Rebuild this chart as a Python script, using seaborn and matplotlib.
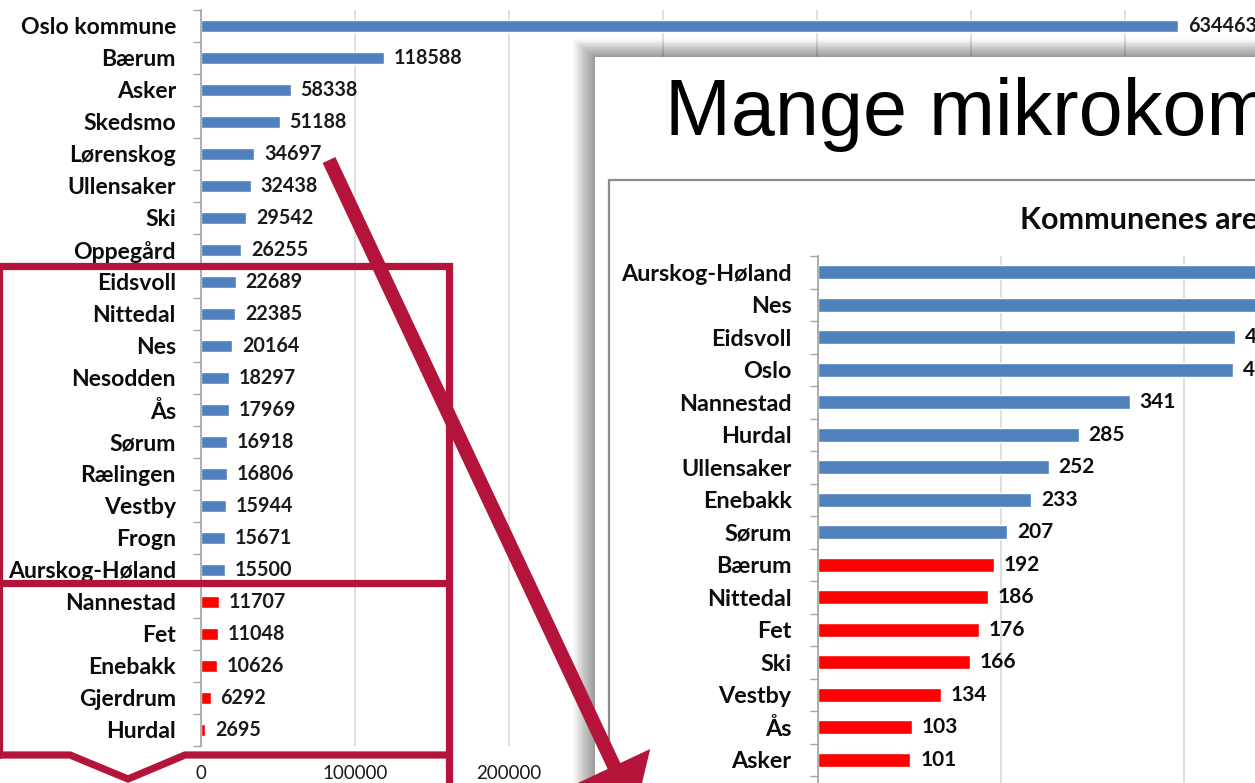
import numpy as np
import pandas as pd
import matplotlib
matplotlib.use("Agg")
import matplotlib.pyplot as plt
from matplotlib.patches import Rectangle, Polygon
import seaborn as sns

# ---------------- data ----------------
main_cats = ['Oslo kommune', 'Bærum', 'Asker', 'Skedsmo', 'Lørenskog', 'Ullensaker', 'Ski',
             'Oppegård', 'Eidsvoll', 'Nittedal', 'Nes', 'Nesodden', 'Ås', 'Sørum', 'Rælingen',
             'Vestby', 'Frogn', 'Aurskog-Høland', 'Nannestad', 'Fet', 'Enebakk', 'Gjerdrum', 'Hurdal']
main_vals = [634463, 118588, 58338, 51188, 34697, 32438, 29542, 26255, 22689, 22385, 20164,
             18297, 17969, 16918, 16806, 15944, 15671, 15500, 11707, 11048, 10626, 6292, 2695]
main_groups = ['stor'] * 18 + ['liten'] * 5
main_ticks = [0, 100000, 200000, 300000, 400000, 500000, 600000]

area_cats = ['Aurskog-Høland', 'Nes', 'Eidsvoll', 'Oslo', 'Nannestad', 'Hurdal', 'Ullensaker',
             'Enebakk', 'Sørum', 'Bærum', 'Nittedal', 'Fet', 'Ski', 'Vestby', 'Ås', 'Asker']
area_vals = [967, 637, 456, 454, 341, 285, 252, 233, 207, 192, 186, 176, 166, 134, 103, 101]
area_groups = ['stor'] * 9 + ['liten'] * 7
area_ticks = [0, 200, 400, 600, 800, 1000]

title_text = 'Mange mikrokommuner'
subtitle_text = 'Kommunenes areal (km²)'

BLUE = '#4F81BD'
RED = '#FF0000'
CRIMSON = '#B5143A'
palette = {'stor': BLUE, 'liten': RED}

sns.set_theme(style='white')
plt.rcParams['font.family'] = ['Lato', 'DejaVu Sans']

W, H = 1255, 783
fig = plt.figure(figsize=(W / 100, H / 100), dpi=100)


def rect_px(x0, y0, x1, y1):
    return [x0 / W, 1 - y1 / H, (x1 - x0) / W, (y1 - y0) / H]


CAT_FS = 16.6
VAL_FS = 14.2
PANEL_X = 595

# ---------------- main population chart ----------------
main_df = pd.DataFrame({'kommune': main_cats, 'innbyggere': main_vals, 'gruppe': main_groups})
ax = fig.add_axes(rect_px(201, 10, 1255, 746))
ax.set_zorder(1)
sns.barplot(data=main_df, x='innbyggere', y='kommune', hue='gruppe', palette=palette,
            orient='h', width=0.4, dodge=False, legend=False, ax=ax, saturation=1)
n = len(main_cats)
px_per_pop = 154 / 100000
ax.set_ylim(n - 0.5, -0.5)
ax.set_xlim(0, (1255 - 201) / px_per_pop)
ax.set_xticks(main_ticks)
# tick labels that sit under the overlaid slide panel are not visible in the reference
ax.set_xticklabels([str(t) if 201 + t * px_per_pop + 40 < PANEL_X else '' for t in main_ticks])
ax.set_yticks(np.arange(-0.5, n, 1), minor=True)
ax.tick_params(axis='y', which='major', length=0, labelsize=CAT_FS, pad=18)
ax.tick_params(axis='y', which='minor', length=6, color='#a6a6a6', width=1, direction='out', left=True)
ax.tick_params(axis='x', length=0, labelsize=13.5, pad=14, labelcolor='#1a1a1a')
for lab in ax.get_yticklabels():
    lab.set_fontweight('bold')
    lab.set_color('#0d0d0d')
ax.xaxis.grid(True, color='#d9d9d9', lw=1.2)
ax.set_axisbelow(True)
for s in ['top', 'right', 'bottom']:
    ax.spines[s].set_visible(False)
ax.spines['left'].set_color('#a6a6a6')
ax.set_xlabel('')
ax.set_ylabel('')
for c in ax.containers:
    ax.bar_label(c, fmt='%d', padding=7, fontsize=VAL_FS, fontweight='bold', color='#1a1a1a')

# ---------------- overlay slide panel ----------------
ov = fig.add_axes([0, 0, 1, 1])
ov.set_zorder(2)
ov.set_xlim(0, W)
ov.set_ylim(H, 0)
ov.axis('off')
ov.patch.set_alpha(0)
for d in range(22, 0, -1):
    ov.add_patch(Rectangle((PANEL_X - d, 57 - d * 0.8), 2000, 2000, facecolor='black',
                           edgecolor='none', alpha=0.019))
ov.add_patch(Rectangle((PANEL_X, 57), 2000, 2000, facecolor='white', edgecolor='none'))
ov.add_patch(Rectangle((609, 180), 2000, 2000, facecolor='white', edgecolor='#8c8c8c', lw=1.6))
ov.text(665, 135, title_text, family=['Liberation Sans', 'DejaVu Sans'], fontsize=57,
        color='black', va='baseline', ha='left')
ov.text(1020, 218, subtitle_text, fontsize=22, fontweight='bold', color='#0d0d0d',
        va='center', ha='left')

# ---------------- inner area chart ----------------
area_df = pd.DataFrame({'kommune': area_cats, 'areal': area_vals, 'gruppe': area_groups})
m = len(area_cats)
px_per_unit = 0.915
ax2 = fig.add_axes(rect_px(818, 256, 818 + 1000 * px_per_unit, 256 + (m + 1) * 32.5))
ax2.set_zorder(3)
sns.barplot(data=area_df, x='areal', y='kommune', hue='gruppe', palette=palette,
            orient='h', width=0.42, dodge=False, legend=False, ax=ax2, saturation=1)
ax2.set_ylim(m + 0.5, -0.5)
ax2.set_xlim(0, 1000)
ax2.set_xticks(area_ticks)
ax2.set_xticklabels([])
ax2.set_yticks(np.arange(-0.5, m + 1, 1), minor=True)
ax2.tick_params(axis='y', which='major', length=0, labelsize=CAT_FS + 0.2, pad=19)
ax2.tick_params(axis='y', which='minor', length=6, color='#a6a6a6', width=1, direction='out', left=True)
ax2.tick_params(axis='x', length=0)
for lab in ax2.get_yticklabels():
    lab.set_fontweight('bold')
    lab.set_color('#0d0d0d')
ax2.xaxis.grid(True, color='#d9d9d9', lw=1.2)
ax2.set_axisbelow(True)
for s in ['top', 'right', 'bottom']:
    ax2.spines[s].set_visible(False)
ax2.spines['left'].set_color('#a6a6a6')
ax2.set_xlabel('')
ax2.set_ylabel('')
ax2.patch.set_alpha(0)
for c in ax2.containers:
    ax2.bar_label(c, fmt='%d', padding=7, fontsize=15, fontweight='bold', color='#0d0d0d')

# ---------------- red annotations ----------------
an = fig.add_axes([0, 0, 1, 1])
an.set_zorder(4)
an.set_xlim(0, W)
an.set_ylim(H, 0)
an.axis('off')
an.patch.set_alpha(0)
lw = 5.2
an.plot([-2, 449, 449], [266, 266, 800], color=CRIMSON, lw=lw, solid_joinstyle='miter')
an.plot([-1, -1], [266, 755], color=CRIMSON, lw=lw)
an.plot([-2, 449], [583, 583], color=CRIMSON, lw=lw)
an.plot([-2, 70, 128, 185, 449], [755, 755, 779, 755, 755], color=CRIMSON, lw=lw,
        solid_joinstyle='miter')

start = np.array([329.0, 160.0])
base = np.array([614.0, 766.0])
u = (base - start) / np.linalg.norm(base - start)
nrm = np.array([u[1], -u[0]])
shaft_half, head_half, head_len = 7.0, 40.0, 50.0
tip = base + u * head_len
arrow_pts = [start + nrm * shaft_half, base + nrm * shaft_half, base + nrm * head_half, tip,
             base - nrm * head_half, base - nrm * shaft_half, start - nrm * shaft_half]
an.add_patch(Polygon(arrow_pts, closed=True, facecolor=CRIMSON, edgecolor='none'))

fig.savefig('out.png', dpi=100)
